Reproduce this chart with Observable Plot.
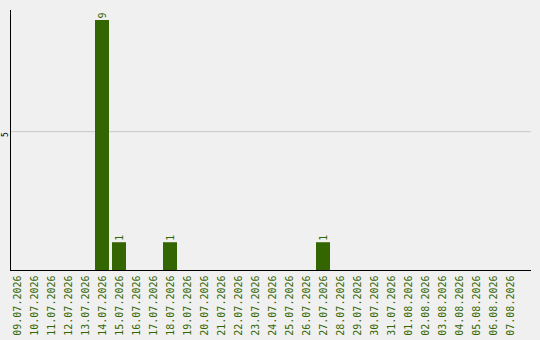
<!DOCTYPE html>
<html>
<head>
<meta charset="utf-8">
<script src="https://cdn.jsdelivr.net/npm/d3@7"></script>
<script src="https://cdn.jsdelivr.net/npm/@observablehq/plot@0.6"></script>
<style>
  html, body { margin: 0; padding: 0; background: #f0f0f0; }
  #chart svg { display: block; }
</style>
</head>
<body>
<div id="chart"></div>
<script>
// Daily counts, 09.07.2026 – 07.08.2026
const dates = [
  "09.07.2026", "10.07.2026", "11.07.2026", "12.07.2026", "13.07.2026",
  "14.07.2026", "15.07.2026", "16.07.2026", "17.07.2026", "18.07.2026",
  "19.07.2026", "20.07.2026", "21.07.2026", "22.07.2026", "23.07.2026",
  "24.07.2026", "25.07.2026", "26.07.2026", "27.07.2026", "28.07.2026",
  "29.07.2026", "30.07.2026", "31.07.2026", "01.08.2026", "02.08.2026",
  "03.08.2026", "04.08.2026", "05.08.2026", "06.08.2026", "07.08.2026"
];
const counts = [
  0, 0, 0, 0, 0,
  9, 1, 0, 0, 1,
  0, 0, 0, 0, 0,
  0, 0, 0, 1, 0,
  0, 0, 0, 0, 0,
  0, 0, 0, 0, 0
];
const yTicks = [5];

const rows = dates.map((date, i) => ({date, count: counts[i]}));
const nonZero = rows.filter(d => d.count > 0);

const green = "#336600";
const font = "'DejaVu Sans Mono', monospace";

const chart = Plot.plot({
  width: 540,
  height: 340,
  marginTop: 10,
  marginLeft: 10,
  marginRight: 9,
  marginBottom: 70,
  style: {background: "#f0f0f0", fontFamily: font},
  x: {domain: dates, paddingInner: 3 / 17, paddingOuter: 0.41, align: 0},
  y: {domain: [0, 9.36]},
  marks: [
    Plot.gridY({ticks: yTicks, stroke: "#c8c8c8", strokeOpacity: 1}),
    Plot.barY(nonZero, {x: "date", y: "count", fill: green}),
    Plot.text(nonZero, {
      x: "date", y: "count", text: d => String(d.count),
      rotate: -90, textAnchor: "start", dy: -2,
      fill: green, fontSize: 10, fontFamily: font
    }),
    Plot.axisX({
      tickSize: 0, tickPadding: 5, tickRotate: -90,
      fill: green, fontSize: 10, fontFamily: font, label: null
    }),
    Plot.axisY({
      ticks: yTicks, tickSize: 0, tickPadding: 3, tickRotate: -90, dy: 3,
      fill: "#000", fontSize: 8, fontFamily: font, label: null
    }),
    Plot.frame({anchor: "left", stroke: "#000", strokeWidth: 1}),
    Plot.ruleY([0], {stroke: "#000", strokeWidth: 1})
  ]
});

document.getElementById("chart").appendChild(chart);
</script>
</body>
</html>
